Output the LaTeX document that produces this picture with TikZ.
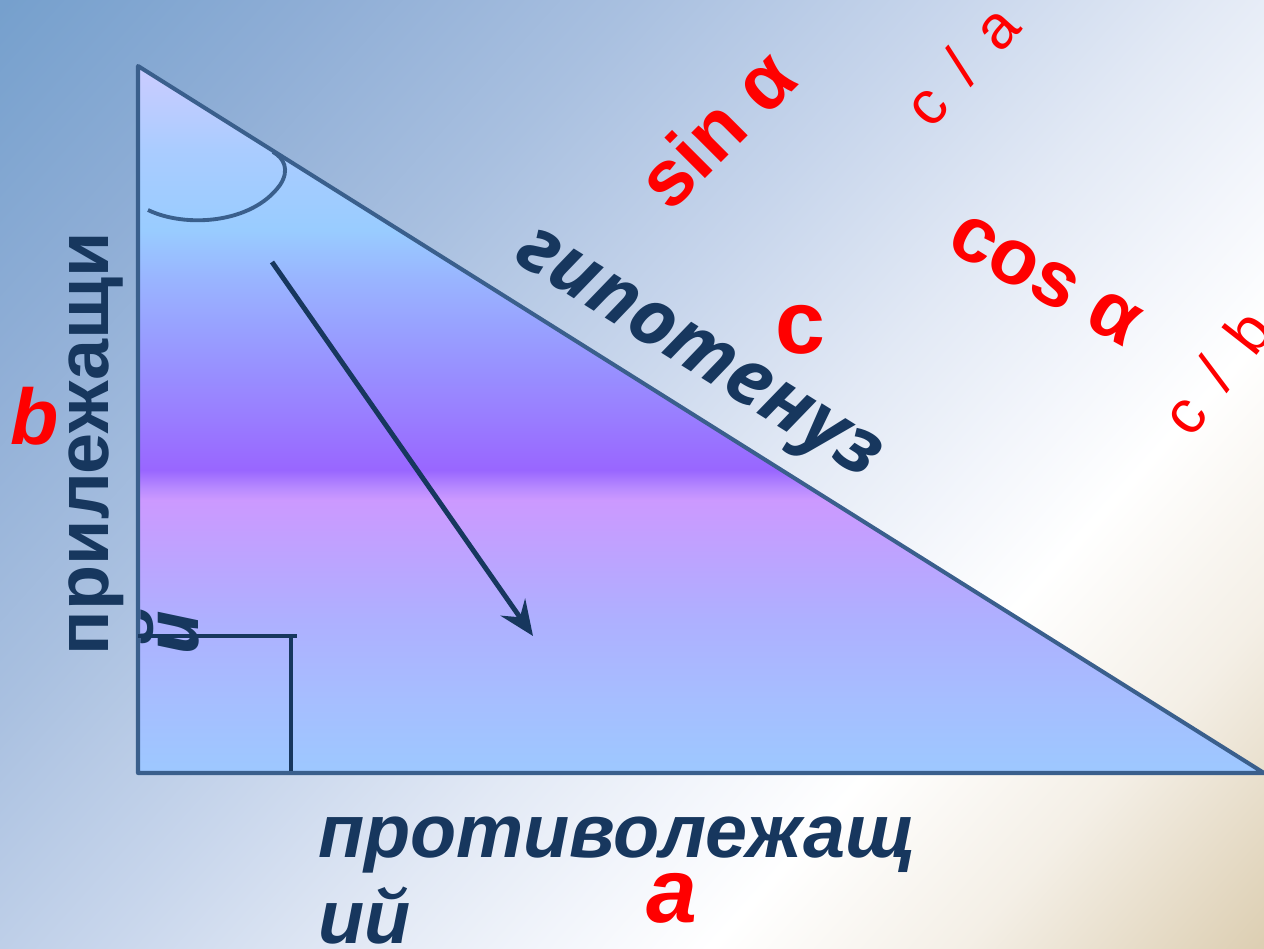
\documentclass[tikz,border=0pt]{standalone}
\usepackage{fontspec}
\setmainfont{Liberation Sans}
\newfontfamily\osfont{Open Sans}
\usetikzlibrary{arrows.meta}

\definecolor{navy}{HTML}{17375E}
\definecolor{edgeblue}{HTML}{3A5F8C}
\definecolor{redtxt}{HTML}{FF0000}

\definecolor{bga}{HTML}{76A0CD}
\definecolor{bgb}{HTML}{8FAED6}
\definecolor{bgc}{HTML}{A9C0E0}
\definecolor{bgd}{HTML}{C8D6EC}
\definecolor{bge}{HTML}{E2E9F5}
\definecolor{bgf}{HTML}{F2F5FB}
\definecolor{bgg}{HTML}{FFFFFF}
\definecolor{bgh}{HTML}{F4EFE6}
\definecolor{bgi}{HTML}{DDCFB3}

\definecolor{tra}{HTML}{9DC8FF}
\definecolor{trb}{HTML}{A6BEFF}
\definecolor{trc}{HTML}{AEB0FF}
\definecolor{trd}{HTML}{BCA4FF}
\definecolor{tre}{HTML}{CC99FF}
\definecolor{trf}{HTML}{B88AFF}
\definecolor{trg}{HTML}{9966FF}
\definecolor{trh}{HTML}{997CFF}
\definecolor{tri}{HTML}{9898FF}
\definecolor{trj}{HTML}{99B4FF}
\definecolor{trk}{HTML}{99CCFF}
\definecolor{trl}{HTML}{AACCFF}
\definecolor{trm}{HTML}{CCCCFF}

\pgfdeclarehorizontalshading{bgshade}{100bp}{%
color(0bp)=(bga); color(25.56bp)=(bga); color(32.89bp)=(bgb);
color(40.23bp)=(bgc); color(47.56bp)=(bgd); color(53.42bp)=(bge);
color(57.82bp)=(bgf); color(61.73bp)=(bgg); color(67.6bp)=(bgh);
color(74.44bp)=(bgi); color(100bp)=(bgi)}

\pgfdeclareverticalshading{trishade}{100bp}{%
color(0bp)=(tra); color(25bp)=(tra); color(30.16bp)=(trb);
color(35.82bp)=(trc); color(40.06bp)=(trd); color(44.31bp)=(tre);
color(45.16bp)=(trf); color(46.43bp)=(trg); color(49.96bp)=(trh);
color(54.92bp)=(tri); color(59.87bp)=(trj); color(63.4bp)=(trk);
color(69.06bp)=(trl); color(75bp)=(trm); color(100bp)=(trm)}

\begin{document}
\begin{tikzpicture}[x=0.02cm,y=-0.02cm,
  txt/.style={inner sep=0pt, outer sep=0pt},
  darktext/.style={txt, text=navy, font=\fontsize{43}{50}\selectfont\bfseries\itshape},
  sidetext/.style={txt, text=navy, font=\fontsize{42}{50}\selectfont\bfseries},
  hyptext/.style={txt, text=navy, font=\osfont\fontsize{44}{50}\selectfont\bfseries\itshape},
  redbold/.style={txt, text=redtxt, font=\fontsize{45}{50}\selectfont\bfseries},
  redletter/.style={txt, text=redtxt, font=\fontsize{52}{60}\selectfont\bfseries\itshape},
  redfrac/.style={txt, text=redtxt, font=\fontsize{35}{40}\selectfont},
  outline/.style={draw=edgeblue, line width=2.3pt, line join=round},
  markline/.style={draw=navy, line width=2.2pt},
  arrowline/.style={draw=navy, line width=2.8pt, -{Stealth[length=20pt, width=17pt, inset=7pt]}},
  arcline/.style={draw=edgeblue, line width=2.2pt}]

\useasboundingbox (0,0) rectangle (1264,949);

% background
\begin{scope}
\clip (0,0) rectangle (1264,949);
\shade[shading=bgshade, shading angle=-42] (-168,-325.5) rectangle (1432,1274.5);
\end{scope}

% triangle
\coordinate (A) at (138,66);
\coordinate (B) at (138,773);
\coordinate (C) at (1264,773);
\shade[shading=trishade] (A) -- (B) -- (C) -- cycle;
\draw[outline] (A) -- (B) -- (C) -- cycle;

% angle arc
\coordinate (arcS) at (148,210);
\coordinate (arcM) at (280,185);
\coordinate (arcE) at (273,152);
\draw[arcline] (arcS) .. controls (185,228) and (252,224) .. (arcM)
  .. controls (290,170) and (284,158) .. (arcE);

% right-angle mark
\coordinate (ra1) at (138,636);
\coordinate (ra2) at (297,636);
\coordinate (ra3) at (291,636);
\coordinate (ra4) at (291,771);
\draw[markline] (ra1) -- (ra2);
\draw[markline] (ra3) -- (ra4);

% arrow
\coordinate (arrS) at (272,262);
\coordinate (arrE) at (533,636);
\draw[arrowline] (arrS) -- (arrE);

% dark labels
\node[hyptext, rotate=-32] (hyp) at (695,360) {гипотенуз};
\node[sidetext, rotate=90, anchor=base west] (adj1) at (108,655) {прилежащи};
\node[txt, text=navy, font=\osfont\fontsize{42}{50}\selectfont\bfseries\itshape, rotate=90, anchor=base west] (adj2) at (198,655) {й};
\node[darktext, anchor=base west] (opp1) at (318,857) {противолежащ};
\node[darktext, anchor=base west] (opp2) at (318,943) {ий};

% red labels
\node[redletter, font=\fontsize{51}{60}\selectfont\bfseries] (lc) at (800,330) {c};
\node[redletter, font=\fontsize{45}{50}\selectfont\bfseries\itshape] (lb) at (35,416) {b};
\node[redletter] (la) at (672,898) {a};
\node[redbold, rotate=45] (sin) at (716,128) {sin α};
\node[redbold, rotate=-29] (cos) at (1045,280) {cos α};
\node[redfrac, rotate=48] (fa) at (961,65) {c\hspace{0.45em}/\hspace{0.45em}a};
\node[redfrac, rotate=52] (fb) at (1216,372) {c\hspace{0.45em}/\hspace{0.45em}b};
\end{tikzpicture}
\end{document}
